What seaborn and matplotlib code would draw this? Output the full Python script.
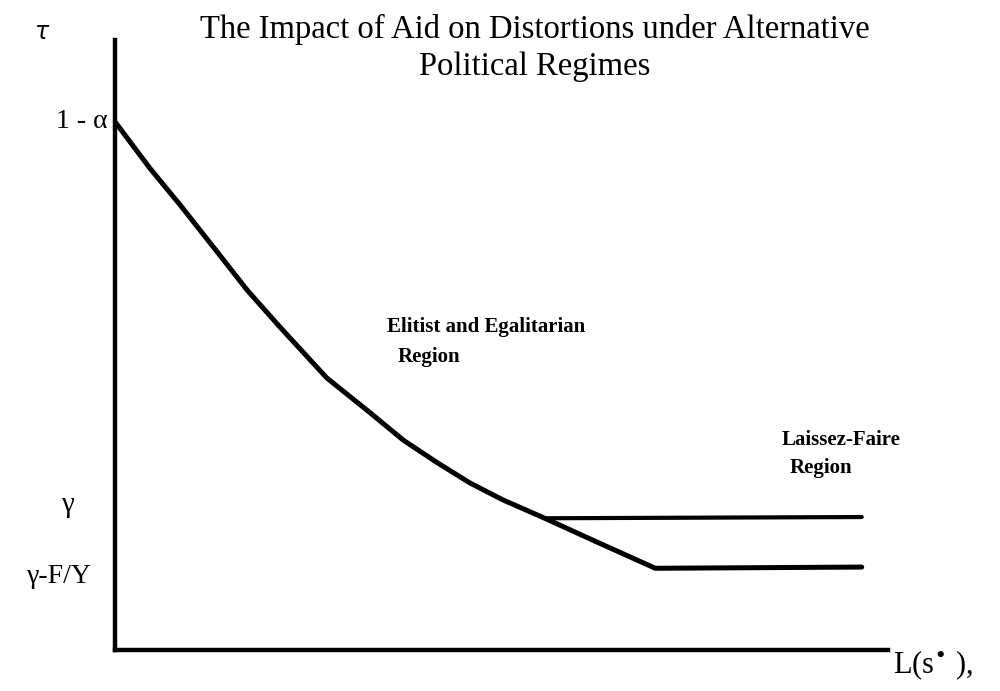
import numpy as np
import pandas as pd
import matplotlib.pyplot as plt
import seaborn as sns

# distortion curve tau(L) (L and tau scaled 0..1)
L_curve   = [0.000, 0.045, 0.084, 0.127, 0.171, 0.213, 0.274, 0.330, 0.373, 0.417,
             0.459, 0.502, 0.556, 0.627, 0.699, 0.966]
tau_curve = [0.866, 0.790, 0.730, 0.661, 0.590, 0.530, 0.446, 0.389, 0.344, 0.307,
             0.274, 0.246, 0.216, 0.175, 0.134, 0.136]

# laissez-faire branch at gamma
L_upper   = [0.556, 0.966]
tau_upper = [0.216, 0.218]

TAU_TOP   = 0.866   # 1 - alpha
GAMMA     = 0.238
GAMMA_FY  = 0.120

curve = pd.DataFrame({"L": L_curve, "tau": tau_curve})
upper = pd.DataFrame({"L": L_upper, "tau": tau_upper})

sns.set_theme(style="white")
plt.rcParams["font.family"] = ["Liberation Serif", "DejaVu Serif"]

fig = plt.figure(figsize=(10, 6.91), dpi=100)
ax = fig.add_axes([0.115, 0.0593, 0.773, 0.8828])

sns.lineplot(data=curve, x="L", y="tau", color="black", lw=3.6, sort=False, ax=ax)
sns.lineplot(data=upper, x="L", y="tau", color="black", lw=3.0, sort=False, ax=ax)

ax.set_xlim(0, 1)
ax.set_ylim(0, 1)
ax.set_xticks([])
ax.set_yticks([])
ax.set_xlabel("")
ax.set_ylabel("")
sns.despine(ax=ax)
for side in ["left", "bottom"]:
    ax.spines[side].set_linewidth(3.2)
    ax.spines[side].set_color("black")

txt = dict(color="black", clip_on=False)
ax.text(0.543, 1.017, "The Impact of Aid on Distortions under Alternative",
        ha="center", va="center", fontsize=23.5, **txt)
ax.text(0.543, 0.956, "Political Regimes", ha="center", va="center", fontsize=23.5, **txt)

ax.text(-0.094, 1.011, r"$\tau$", ha="center", va="center", fontsize=17, **txt)
ax.text(-0.010, TAU_TOP, "1 - α", ha="right", va="center", fontsize=20, **txt)
ax.text(-0.062, GAMMA, "γ", ha="center", va="center", fontsize=21, **txt)
ax.text(-0.030, GAMMA_FY, "γ-F/Y", ha="right", va="center", fontsize=20, **txt)
ax.text(1.006, -0.025, "L(s$^{\\bullet}$ ),", ha="left", va="center", fontsize=22, **txt)

ax.text(0.352, 0.530, "Elitist and Egalitarian", ha="left", va="center", fontsize=15,
        fontweight="bold", **txt)
ax.text(0.365, 0.480, "Region", ha="left", va="center", fontsize=15, fontweight="bold", **txt)
ax.text(0.863, 0.344, "Laissez-Faire", ha="left", va="center", fontsize=15,
        fontweight="bold", **txt)
ax.text(0.873, 0.298, "Region", ha="left", va="center", fontsize=15, fontweight="bold", **txt)

plt.savefig("out.png", dpi=100)
